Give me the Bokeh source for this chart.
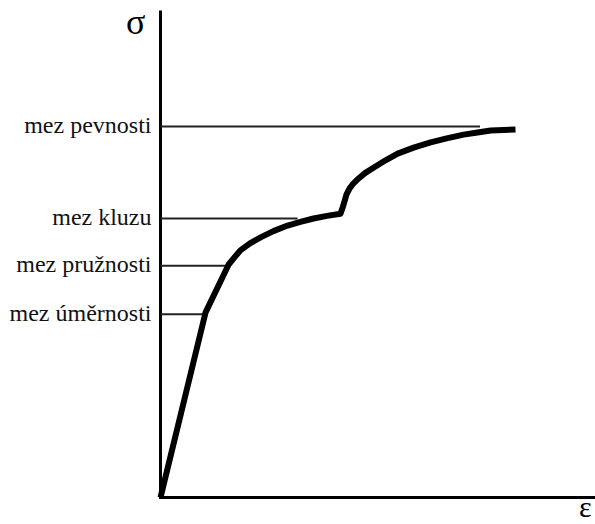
from bokeh.plotting import figure
from bokeh.models import Range1d
from bokeh.core.properties import value
from bokeh.embed import file_html
from bokeh.resources import INLINE

# Stress-strain curve (arbitrary units: strain eps, stress sigma)
eps = [0.0, 12.7, 19.2, 21.0, 22.5, 25.2, 28.2, 31.8, 35.8, 39.4, 43.1, 46.9, 50.7,
       51.5, 52.4, 53.2, 54.1, 55.8, 57.7, 60.0, 63.4, 66.8, 71.3, 76.1, 80.6,
       85.4, 89.3, 93.0, 100.0]
sigma = [0.0, 49.9, 62.8, 64.9, 66.6, 68.5, 70.1, 71.8, 73.3, 74.3, 75.2, 75.9, 76.5,
         78.7, 81.7, 83.2, 84.4, 86.0, 87.5, 88.9, 90.9, 92.7, 94.3, 95.7, 96.8,
         97.8, 98.4, 98.9, 99.2]

# Characteristic limits
level_names = ["mez úměrnosti", "mez pružnosti", "mez kluzu", "mez pevnosti"]
level_sigma = [49.4, 62.5, 75.2, 100.0]
level_eps_end = [12.6, 19.0, 38.6, 90.0]

X_PX = 3.55   # px per strain unit
Y_PX = 3.71   # px per stress unit
W, H = 595, 524
OX, OY = 160, 497  # origin position in the canvas

p = figure(width=W, height=H, output_backend="svg", toolbar_location=None,
           x_range=Range1d(-OX / X_PX, (W - OX) / X_PX),
           y_range=Range1d(-(H - OY) / Y_PX, OY / Y_PX),
           min_border=0)
p.outline_line_color = None
p.axis.visible = False
p.xgrid.visible = False
p.ygrid.visible = False
p.background_fill_color = "white"
p.border_fill_color = "white"

# axes
p.segment(x0=[0, 0], y0=[-0.4, 0], x1=[0, (W - OX) / X_PX], y1=[(OY - 10) / Y_PX, 0],
          line_color="black", line_width=3)

# thin reference lines
p.segment(x0=[0] * len(level_sigma), y0=level_sigma, x1=level_eps_end, y1=level_sigma,
          line_color="#222222", line_width=2)

# curve
p.line(eps, sigma, line_color="black", line_width=6, line_join="round", line_cap="butt")

# limit labels
p.text(x=[-9 / X_PX] * len(level_sigma), y=[s + 1.5 / Y_PX for s in level_sigma],
       text=level_names, text_align="right", text_baseline="middle",
       text_font=value("Liberation Serif"), text_font_size="24px", text_color="#111111")

# axis symbols
p.text(x=[-15 / X_PX], y=[(OY - 21) / Y_PX], text=["σ"], text_align="right",
       text_baseline="middle", text_font=value("Liberation Serif"),
       text_font_size="36px", text_color="black")
p.text(x=[(591 - OX) / X_PX], y=[(OY - 506) / Y_PX], text=["ε"], text_align="right",
       text_baseline="middle", text_font=value("Liberation Serif"),
       text_font_size="30px", text_color="black")

open("out.html", "w").write(file_html(p, INLINE))
